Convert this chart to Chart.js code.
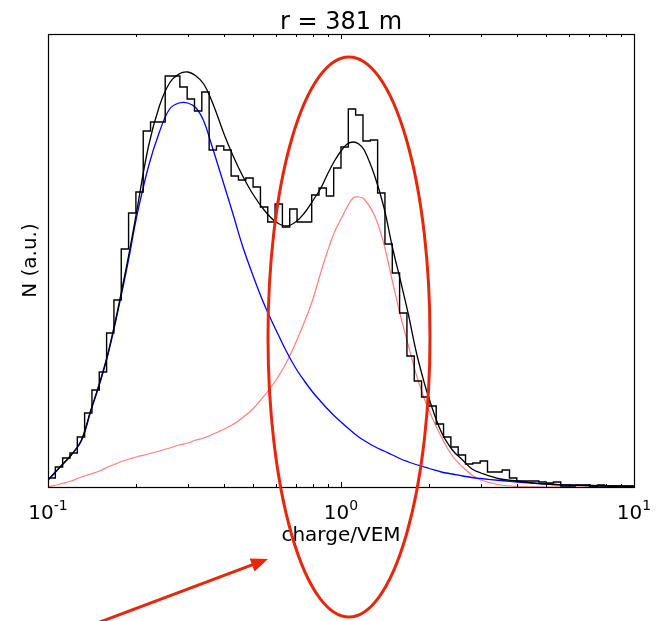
<!DOCTYPE html>
<html>
<head>
<meta charset="utf-8">
<script src="https://cdn.jsdelivr.net/npm/chart.js@4.4.1/dist/chart.umd.min.js"></script>
<style>
html,body{margin:0;padding:0;background:#fff;}
canvas{display:block;}
</style>
</head>
<body>
<canvas id="c" width="658" height="621"></canvas>
<script>
/* charge histogram, r = 381 m */
const FONT = '"DejaVu Sans", sans-serif';

// 80 log bins between 10^-1 and 10^1
const binLogMin = -1;
const binLogWidth = 0.025;
const histCounts = [
  9, 20, 29, 34, 50, 74, 97, 115, 154, 187,
  238, 274, 295, 356, 365, 365, 411, 411, 400, 388,
  376, 395, 337, 341, 337, 311, 307, 309, 300, 280,
  265, 283, 260, 278, 265, 265, 292, 299, 291, 319,
  340, 378, 372, 346, 347, 294, 243, 214, 174, 131,
  106, 90, 81, 63, 50, 40, 32, 23, 24, 26,
  15, 15, 17, 9, 6, 6, 6, 5, 4, 5,
  1, 1, 2, 2, 1, 2, 1, 1, 1, 1
];

// fitted curves, sampled at these charges (VEM)
const curveQ = [
  0.10, 0.11, 0.12, 0.13, 0.14, 0.15, 0.16, 0.17, 0.18, 0.19,
  0.20, 0.22, 0.24, 0.26, 0.28, 0.30, 0.32, 0.34, 0.36, 0.38,
  0.40, 0.43, 0.46, 0.50, 0.55, 0.60, 0.65, 0.70, 0.75, 0.80,
  0.85, 0.90, 0.95, 1.00, 1.05, 1.10, 1.15, 1.20, 1.30, 1.40,
  1.50, 1.60, 1.70, 1.80, 1.90, 2.00, 2.20, 2.40, 2.60, 2.80,
  3.00, 3.50, 4.00, 5.00, 6.00, 7.00, 8.00, 10.0
];
const fitTotal = [
  7, 20, 32, 47, 77, 104, 133, 167, 202, 237,
  273, 340, 381, 404, 413, 415, 411, 403, 388, 370,
  352, 330, 312, 293, 276, 265, 261, 265, 274, 286,
  298, 313, 326, 336, 343, 345, 343, 337, 312, 280,
  239, 205, 172, 137, 110, 88, 55, 37, 27, 18,
  14, 8, 6, 3, 2, 1.5, 1, 0.5
];
const fitLow = [
  7, 20, 32, 46, 76, 103, 132, 165, 199, 233,
  268, 320, 355, 378, 384, 384, 379, 366, 344, 322,
  301, 271, 242, 212, 181, 157, 136, 119, 106, 95,
  86, 78, 71, 65, 59.5, 54.5, 50, 46.5, 40.5, 36,
  32, 28, 25, 22.5, 20.5, 18.5, 15, 13, 11, 9.5,
  8.5, 6.5, 5, 3, 2, 1.5, 1, 0.5
];
const fitVem = [
  0, 3, 6, 10, 13, 16, 20, 23, 26, 28,
  30, 33, 36, 39, 42, 44, 47, 49, 52, 55,
  58, 63, 69, 78, 92, 107, 124, 144, 165, 187,
  213, 236, 255, 268, 280, 289, 290, 288, 272, 243,
  205, 170, 141, 114, 93, 76, 50, 31, 20, 12,
  7, 2, 0.5, 0, 0, 0, 0, 0
];

const xMin = 0.1, xMax = 10;
const yMax = 453;
const majorTicks = [0.1, 1, 10];
const majorExp = ['-1', '0', '1'];
const titleText = 'r = 381 m';
const xTitle = 'charge/VEM';
const yTitle = 'N (a.u.)';

// histogram outline: two points per bin
const histPts = [];
histCounts.forEach((c, i) => {
  histPts.push({x: Math.pow(10, binLogMin + i * binLogWidth), y: c});
  histPts.push({x: Math.pow(10, binLogMin + (i + 1) * binLogWidth), y: c});
});
const pts = arr => curveQ.map((q, i) => ({x: q, y: arr[i]}));

const decor = {
  id: 'decor',
  afterDraw(chart) {
    const ctx = chart.ctx, xs = chart.scales.x;
    const {left, right, top, bottom} = chart.chartArea;
    ctx.save();
    // frame
    ctx.strokeStyle = '#000'; ctx.lineWidth = 1.2;
    ctx.strokeRect(left + 0.5, top + 0.5, right - left, bottom - top);
    // inward ticks top and bottom
    ctx.lineWidth = 1;
    const tick = (v, len) => {
      const p = Math.round(xs.getPixelForValue(v)) + 0.5;
      ctx.beginPath();
      ctx.moveTo(p, bottom); ctx.lineTo(p, bottom - len);
      ctx.moveTo(p, top); ctx.lineTo(p, top + len);
      ctx.stroke();
    };
    for (let d = -1; d < 1; d++) for (let m = 1; m < 10; m++) tick(m * Math.pow(10, d), m === 1 ? 5 : 3);
    tick(10, 5);
    // tick labels 10^n
    ctx.fillStyle = '#000';
    ctx.textBaseline = 'alphabetic';
    majorTicks.forEach((v, i) => {
      const p = xs.getPixelForValue(v);
      ctx.font = '20px ' + FONT;
      const wb = ctx.measureText('10').width;
      ctx.font = '14px ' + FONT;
      const we = ctx.measureText(majorExp[i]).width;
      const x0 = p - (wb + we) / 2;
      ctx.textAlign = 'left';
      ctx.font = '20px ' + FONT;
      ctx.fillText('10', x0, 519);
      ctx.font = '14px ' + FONT;
      ctx.fillText(majorExp[i], x0 + wb, 510);
    });
    // titles
    ctx.textAlign = 'center';
    ctx.font = '20px ' + FONT;
    ctx.fillText(xTitle, (left + right) / 2, 541);
    ctx.font = '24px ' + FONT;
    ctx.fillText(titleText, (left + right) / 2, 29);
    ctx.save();
    ctx.translate(31, (top + bottom) / 2);
    ctx.rotate(-Math.PI / 2);
    ctx.font = '20px ' + FONT;
    ctx.textBaseline = 'middle';
    ctx.fillText(yTitle, 0, 0);
    ctx.restore();
    // hand-drawn annotation: ellipse + arrow
    ctx.strokeStyle = '#e5280c'; ctx.fillStyle = '#e5280c';
    ctx.lineWidth = 3;
    ctx.beginPath();
    ctx.ellipse(349, 337, 81, 280, 0, 0, Math.PI * 2);
    ctx.stroke();
    const ax0 = 92, ay0 = 625, ax1 = 268, ay1 = 559;
    const ang = Math.atan2(ay1 - ay0, ax1 - ax0);
    ctx.beginPath();
    ctx.moveTo(ax0, ay0);
    ctx.lineTo(ax1 - 12 * Math.cos(ang), ay1 - 12 * Math.sin(ang));
    ctx.stroke();
    ctx.beginPath();
    ctx.moveTo(ax1, ay1);
    ctx.lineTo(ax1 - 17 * Math.cos(ang) + 7 * Math.sin(ang), ay1 - 17 * Math.sin(ang) - 7 * Math.cos(ang));
    ctx.lineTo(ax1 - 17 * Math.cos(ang) - 7 * Math.sin(ang), ay1 - 17 * Math.sin(ang) + 7 * Math.cos(ang));
    ctx.closePath();
    ctx.fill();
    ctx.restore();
  }
};

new Chart(document.getElementById('c'), {
  type: 'line',
  data: {
    datasets: [
      {label: 'data', data: histPts, borderColor: '#000', borderWidth: 1.4, tension: 0, pointRadius: 0},
      {label: 'total', data: pts(fitTotal), borderColor: '#000', borderWidth: 1.3, tension: 0.4, pointRadius: 0},
      {label: 'low', data: pts(fitLow), borderColor: '#0000ff', borderWidth: 1.3, tension: 0.4, pointRadius: 0},
      {label: 'vem', data: pts(fitVem), borderColor: '#ff7f7f', borderWidth: 1.2, tension: 0.4, pointRadius: 0}
    ]
  },
  options: {
    responsive: false,
    animation: false,
    layout: {padding: {left: 48, right: 24, top: 34, bottom: 134}},
    plugins: {legend: {display: false}, tooltip: {enabled: false}, title: {display: false}},
    scales: {
      x: {type: 'logarithmic', min: xMin, max: xMax, display: false},
      y: {min: 0, max: yMax, display: false}
    }
  },
  plugins: [decor]
});
</script>
</body>
</html>
